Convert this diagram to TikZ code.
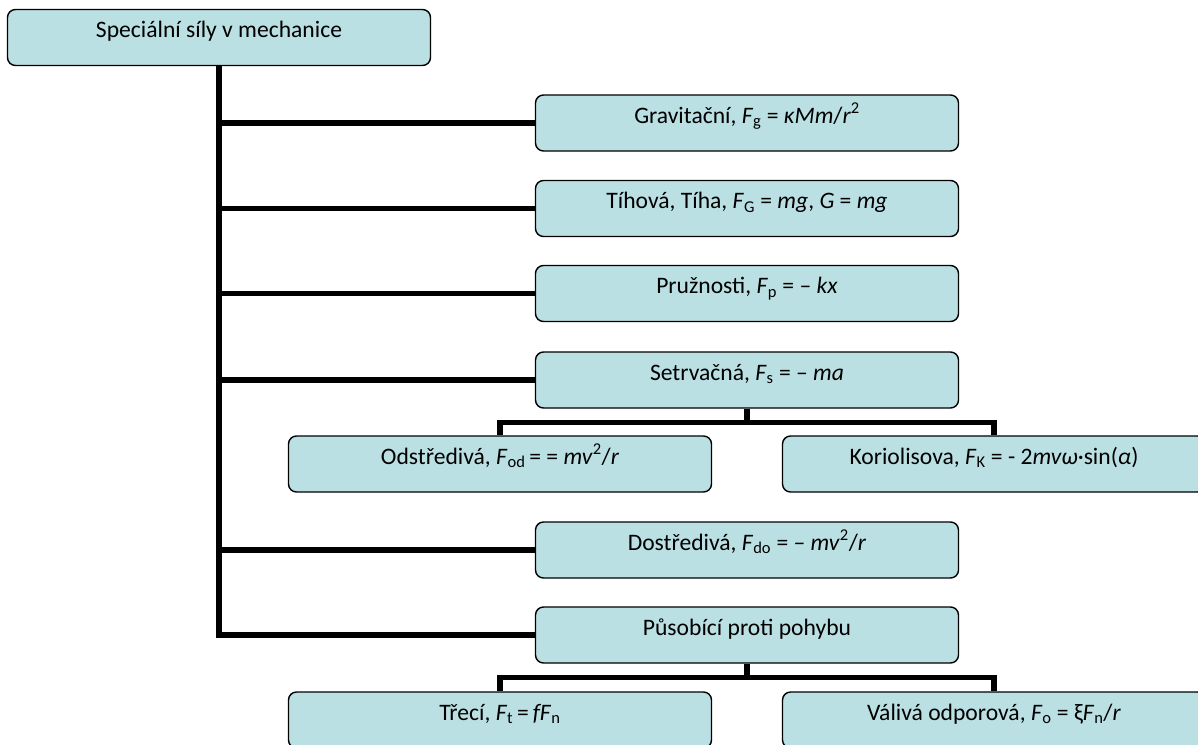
\documentclass[tikz,border=0pt]{standalone}
\usepackage{fontspec}
\setmainfont{Carlito}
\definecolor{boxfill}{RGB}{187,224,227}
\newcommand{\Fs}[1]{\textit{F}\textsubscript{#1}}
\begin{document}
\begin{tikzpicture}[x=1pt,y=-1pt,
  fbox/.style={draw=black, line width=1.4pt, fill=boxfill, rounded corners=8pt,
    minimum width=423pt, inner xsep=0pt, inner ysep=0pt,
    text height=28pt, text depth=28pt,
    font=\fontsize{23.6}{28}\selectfont, anchor=center},
  conn/.style={draw=black, line width=5.5pt}]
\useasboundingbox (0,0) rectangle (1198,744);

\node[fbox] (top)   at (219,37.5) {Speciální síly v mechanice};
\node[fbox] (grav)  at (747,123)  {Gravitační, \Fs{g} = \textit{κMm}/\textit{r}\textsuperscript{2}};
\node[fbox] (tiha)  at (747,208.5){Tíhová, Tíha, \Fs{G} = \textit{mg}, \textit{G} = \textit{mg}};
\node[fbox] (pruz)  at (747,293.5){Pružnosti, \Fs{p} = – \textit{kx}};
\node[fbox] (setr)  at (747,380)  {Setrvačná, \Fs{s} = – \textit{ma}};
\node[fbox] (odst)  at (500,464)  {Odstředivá, \Fs{od}\,= = \textit{mv}\textsuperscript{2}/\textit{r}};
\node[fbox] (kor)   at (994,464)  {Koriolisova, \Fs{K} = - 2\textit{mvω}·sin(\textit{α})};
\node[fbox] (dost)  at (747,550)  {Dostředivá, \Fs{do} = – \textit{mv}\textsuperscript{2}/\textit{r}};
\node[fbox] (pusob) at (747,635)  {Působící proti pohybu};
\node[fbox] (treci) at (500,720)  {Třecí, \Fs{t}\,=\,\textit{fF}\textsubscript{n}};
\node[fbox] (val)   at (994,720)  {Válivá odporová, \Fs{o} = ξ\Fs{n}/\textit{r}};

\draw[conn] (top.south) |- (grav.west);
\draw[conn] (top.south) |- (tiha.west);
\draw[conn] (top.south) |- (pruz.west);
\draw[conn] (top.south) |- (setr.west);
\draw[conn] (top.south) |- (dost.west);
\draw[conn] (top.south) |- (pusob.west);

\draw[conn] (setr.south) -- ++(0,-14pt) -| (odst.north);
\draw[conn] (setr.south) -- ++(0,-14pt) -| (kor.north);
\draw[conn] (pusob.south) -- ++(0,-14pt) -| (treci.north);
\draw[conn] (pusob.south) -- ++(0,-14pt) -| (val.north);
\end{tikzpicture}
\end{document}
